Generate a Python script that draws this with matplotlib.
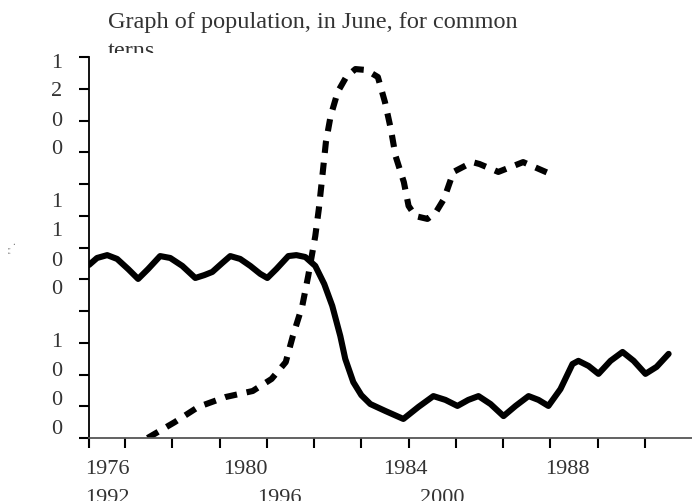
import matplotlib.pyplot as plt
from matplotlib.transforms import Bbox

plt.rcParams['font.family'] = 'Liberation Serif'

# Data
solid_years = [1976.47, 1976.81, 1977.24, 1977.66, 1978.13, 1978.55, 1978.97, 1979.48,
               1979.91, 1980.42, 1980.97, 1981.35, 1981.69, 1982.11, 1982.45, 1982.87,
               1983.30, 1983.72, 1984.02, 1984.40, 1984.91, 1985.25, 1985.63, 1986.05,
               1986.43, 1986.77, 1987.11, 1987.32, 1987.66, 1988.00, 1988.38, 1989.02,
               1989.78, 1990.42, 1991.05, 1991.56, 1992.07, 1992.53, 1992.96, 1993.47,
               1994.02, 1994.53, 1995.08, 1995.50, 1995.92, 1996.43, 1996.94, 1997.19,
               1997.62, 1998.04, 1998.55, 1999.06, 1999.53, 2000.03, 2000.50, 2001.01]
solid_values = [545, 567, 576, 564, 532, 501, 532, 573,
                567, 542, 504, 513, 523, 551, 573, 564,
                542, 517, 504, 532, 573, 576, 570, 542,
                485, 416, 321, 249, 176, 135, 107, 85,
                60, 98, 132, 120, 101, 120, 132, 107,
                69, 101, 132, 120, 101, 154, 233, 243,
                227, 202, 243, 271, 243, 202, 224, 265]

dashed_years = [1978.95, 1980.1, 1981.1, 1982.25, 1983.4, 1984.2, 1984.8, 1985.1,
                1985.5, 1985.75, 1986.05, 1986.2, 1986.35, 1986.5, 1986.7, 1987.0,
                1987.36, 1987.75, 1988.21, 1988.7, 1989.0, 1989.25, 1989.45, 1989.8,
                1990.0, 1990.29, 1990.8, 1991.14, 1991.5, 1991.9, 1992.7, 1993.0,
                1993.8, 1994.85, 1995.9]
dashed_values = [0, 50, 98, 129, 148, 186, 239, 321,
                 416, 510, 636, 721, 825, 932, 1014, 1090,
                 1137, 1162, 1159, 1137, 1058, 973, 888, 806,
                 731, 699, 690, 709, 753, 838, 869, 863,
                 838, 869, 835]

x_labels_row1 = ["1976", "1980", "1984", "1988"]
x_labels_row2 = ["1992", "1996", "2000"]
y_labels = ["1200", "1100", "1000"]
title_lines = ["Graph of population, in June, for common", "terns"]

W, H = 692, 502
fig = plt.figure(figsize=(W / 100, H / 100), dpi=100)
ax = fig.add_axes([89 / W, 1 - 439 / H, 1 - 89 / W, (439 - 58) / H])
ax.set_facecolor('white')

ax.plot(solid_years, solid_values, color='black', lw=4.4,
        solid_joinstyle='round', solid_capstyle='round')
ax.plot(dashed_years, dashed_values, color='black', lw=4.4,
        dashes=(2.0, 1.6), dash_capstyle='butt', dash_joinstyle='round')

ax.set_xlim(1976.47, 2002.0)
ax.set_ylim(0, 1200)
ax.set_xticks([1976.47] + list(range(1978, 2001, 2)))
ax.set_yticks(range(0, 1201, 100))
ax.set_xticklabels([])
ax.set_yticklabels([])
ax.tick_params(axis='both', direction='out', length=7.5, width=1.5, color='black')
for s in ['top', 'right']:
    ax.spines[s].set_visible(False)
for s in ['left', 'bottom']:
    ax.spines[s].set_linewidth(1.3)
ax.spines['bottom'].set_color('#555555')

txt = '#333333'
# title, second line cut off just above the plot area
fig.text(108 / W, 1 - 12 / H, title_lines[0], ha='left', va='top',
         fontsize=17.5, color=txt)
t2 = fig.text(108 / W, 1 - 41 / H, title_lines[1], ha='left', va='top',
              fontsize=17.5, color=txt)
t2.set_clip_box(Bbox.from_extents(0, H - 54, W, H))
t2.set_clip_on(True)

# wrapped y labels, one digit per line
for i, lab in enumerate(y_labels):
    for j, ch in enumerate(lab):
        py = 63 + 140 * i + 29 * j
        fig.text(57 / W, 1 - py / H, ch, ha='center', va='center',
                 fontsize=16, color=txt)

# wrapped x labels, second row runs off the bottom
for lab, px in zip(x_labels_row1, [85, 223, 383, 545]):
    fig.text(px / W, 1 - 460 / H, lab, ha='left', va='top', fontsize=16, color=txt)
for lab, px in zip(x_labels_row2, [85, 257, 420]):
    fig.text(px / W, 1 - 489 / H, lab, ha='left', va='top', fontsize=16, color=txt)

# remains of the axis title
fig.text(14 / W, 1 - 248 / H, "' ' .", rotation=90, ha='center', va='center',
         fontsize=7, color='#555555')

fig.savefig('out.png', dpi=100)
